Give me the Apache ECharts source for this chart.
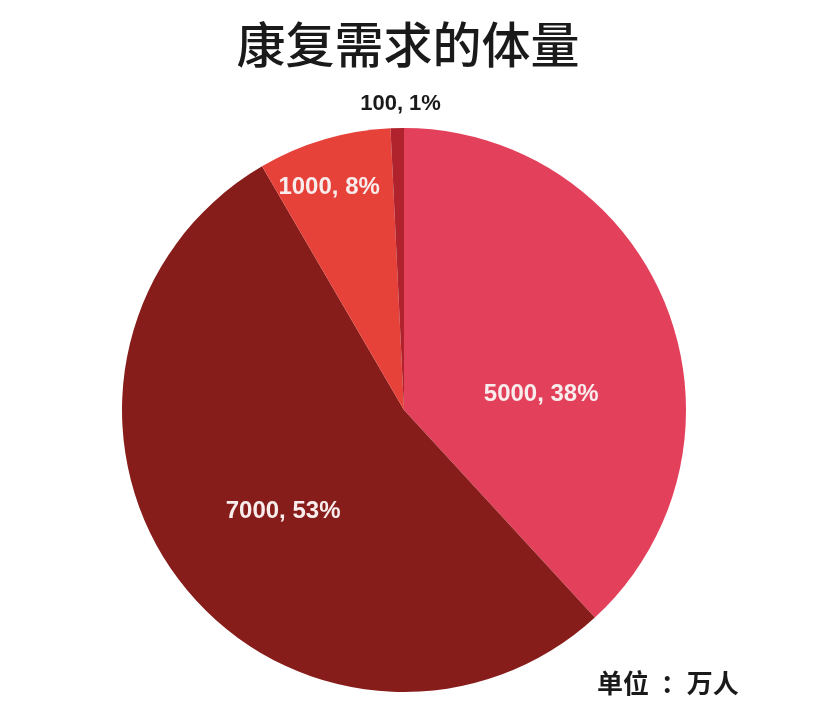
<!DOCTYPE html>
<html lang="zh-CN">
<head>
    <meta charset="UTF-8">
    <title>康复需求的体量</title>
    <style>
        * { box-sizing: border-box; margin: 0; padding: 0; }
        body { background: #fff; font-family: "Noto Sans CJK SC", sans-serif; }
        #chart { width: 816px; height: 720px; }
    </style>
    <script src="https://cdn.jsdelivr.net/npm/echarts@6/dist/echarts.min.js"></script>
</head>
<body>
    <div id="chart"></div>
    <script>
        // 数据
        const values = [5000, 7000, 1000, 100];
        const percents = ['38%', '53%', '8%', '1%'];
        const colors = ['#E3405C', '#871D1A', '#E6423A', '#B0222C'];
        // 标签微调（相对默认位置）
        const labelShift = [[3, 37], [-5, 16], [-34, -85], [0, -162]];

        const chart = echarts.init(document.getElementById('chart'));
        chart.setOption({
            animation: false,
            title: [{
                text: '康复需求的体量',
                left: 'center',
                top: 15,
                textStyle: { fontSize: 49, fontWeight: 500, color: '#1a1a1a', fontFamily: 'Noto Sans CJK SC' }
            }, {
                text: '单位  ：万人',
                left: 592,
                top: 665,
                textStyle: { fontSize: 26, fontWeight: 'bold', color: '#1a1a1a', fontFamily: 'Noto Sans CJK SC' }
            }],
            series: [{
                type: 'pie',
                center: [404, 410],
                radius: 282,
                startAngle: 90,
                clockwise: true,
                itemStyle: { borderWidth: 0 },
                label: {
                    position: 'inside',
                    color: '#F8ECEC',
                    fontSize: 24,
                    fontWeight: 'bold',
                    fontFamily: 'Liberation Sans',
                    formatter: p => p.value + ', ' + percents[p.dataIndex]
                },
                labelLayout: p => ({ dx: labelShift[p.dataIndex][0], dy: labelShift[p.dataIndex][1] }),
                data: values.map((v, i) => {
                    const d = { value: v, itemStyle: { color: colors[i] } };
                    if (i === 3) {
                        d.label = { color: '#1a1a1a', fontSize: 22 };
                    }
                    return d;
                })
            }]
        });
    </script>
</body>
</html>
